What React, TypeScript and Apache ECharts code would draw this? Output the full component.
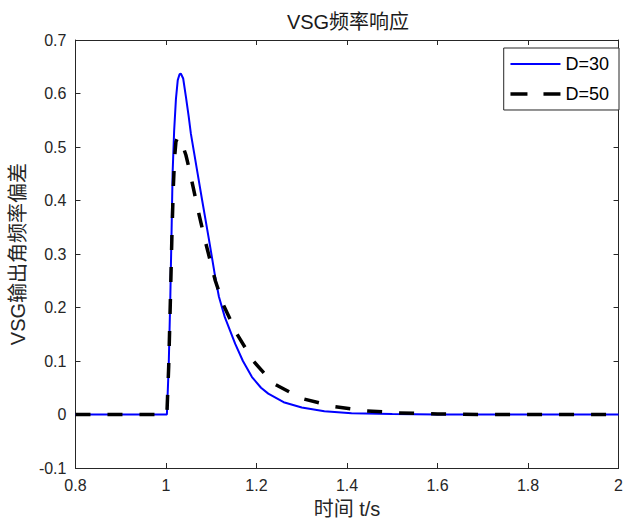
import React, { useEffect, useRef } from "react";
import * as echarts from "echarts";

const titleText = "VSG频率响应";
const xName = "时间 t/s";
const yName = "VSG输出角频率偏差";
const seriesNames = ["D=30", "D=50"];

const t30 = [0.8, 1.0, 1.002, 1.006, 1.0096, 1.0125, 1.0146, 1.018, 1.022, 1.026, 1.03, 1.033, 1.038, 1.044, 1.05, 1.055, 1.062, 1.069, 1.08, 1.095, 1.109, 1.117, 1.13, 1.153, 1.17, 1.19, 1.21, 1.226, 1.26, 1.3, 1.35, 1.41, 1.5, 1.6, 2.0];
const v30 = [0, 0, 0, 0.09, 0.22, 0.35, 0.45, 0.53, 0.59, 0.625, 0.636, 0.637, 0.628, 0.594, 0.558, 0.525, 0.49, 0.455, 0.4, 0.327, 0.256, 0.22, 0.182, 0.132, 0.1, 0.07, 0.05, 0.039, 0.023, 0.013, 0.006, 0.0025, 0.0008, 0, 0];

const t50 = [0.8, 1.0, 1.002, 1.006, 1.0096, 1.013, 1.016, 1.019, 1.022, 1.026, 1.03, 1.036, 1.044, 1.051, 1.06, 1.07, 1.085, 1.1, 1.109, 1.128, 1.157, 1.193, 1.237, 1.3, 1.37, 1.44, 1.515, 1.6, 1.7, 2.0];
const v50 = [0, 0, 0, 0.09, 0.21, 0.33, 0.42, 0.48, 0.51, 0.518, 0.515, 0.505, 0.485, 0.46, 0.425, 0.385, 0.33, 0.28, 0.25, 0.203, 0.15, 0.1, 0.058, 0.03, 0.015, 0.007, 0.003, 0.001, 0, 0];

const xMin = 0.8, xMax = 2, xStep = 0.2;
const yMin = -0.1, yMax = 0.7, yStep = 0.1;

const FONT = "'Liberation Sans', Arial, 'Noto Sans CJK SC', sans-serif";
const AXIS_COLOR = "#262626";

export default function App() {
  const ref = useRef<HTMLDivElement>(null);
  useEffect(() => {
    if (!ref.current) return;
    const chart = echarts.init(ref.current, undefined, { renderer: "svg" });
    const d30 = t30.map((t, i) => [t, v30[i]]);
    const d50 = t50.map((t, i) => [t, v50[i]]);
    const axisCommon = {
      axisLine: { show: true, onZero: false, lineStyle: { color: AXIS_COLOR, width: 1 } },
      axisTick: { show: true, inside: true, length: 5, lineStyle: { color: AXIS_COLOR } },
      splitLine: { show: false },
    };
    chart.setOption({
      animation: false,
      backgroundColor: "#ffffff",
      textStyle: { fontFamily: FONT },
      title: {
        text: titleText,
        left: 348,
        top: 12,
        padding: 0,
        textAlign: "center",
        textStyle: { fontSize: 20, fontWeight: "normal", color: "#1a1a1a", fontFamily: FONT },
      },
      grid: { left: 73, right: 6, top: 40, bottom: 52, containLabel: false },
      legend: {
        orient: "vertical",
        right: 7,
        top: 48,
        padding: [7, 10, 7, 5],
        itemWidth: 50,
        itemHeight: 14,
        itemGap: 12,
        backgroundColor: "#ffffff",
        borderColor: AXIS_COLOR,
        borderWidth: 1,
        borderRadius: 0,
        itemStyle: { opacity: 0, color: "transparent", borderWidth: 0 },
        textStyle: { fontSize: 18, color: "#000", fontFamily: FONT },
        data: [
          { name: seriesNames[0] },
          { name: seriesNames[1], lineStyle: { type: [17, 16], width: 3.5, color: "#000" } },
        ],
      },
      xAxis: [
        {
          type: "value",
          position: "bottom",
          min: xMin,
          max: xMax,
          interval: xStep,
          ...axisCommon,
          axisLabel: { fontSize: 16, color: AXIS_COLOR, margin: 9, fontFamily: FONT },
          name: xName,
          nameLocation: "middle",
          nameGap: 31,
          nameTextStyle: { fontSize: 20, color: AXIS_COLOR, fontFamily: FONT },
        },
        {
          type: "value",
          position: "top",
          min: xMin,
          max: xMax,
          interval: xStep,
          ...axisCommon,
          axisLabel: { show: false },
        },
      ],
      yAxis: [
        {
          type: "value",
          position: "left",
          min: yMin,
          max: yMax,
          interval: yStep,
          ...axisCommon,
          axisLabel: { fontSize: 16, color: AXIS_COLOR, margin: 9, fontFamily: FONT },
          name: yName,
          nameLocation: "middle",
          nameGap: 42,
          nameTextStyle: { fontSize: 20, color: AXIS_COLOR, fontFamily: FONT },
        },
        {
          type: "value",
          position: "right",
          min: yMin,
          max: yMax,
          interval: yStep,
          ...axisCommon,
          axisLabel: { show: false },
        },
      ],
      series: [
        {
          name: seriesNames[0],
          type: "line",
          xAxisIndex: 0,
          yAxisIndex: 0,
          data: d30,
          symbol: "none",
          showSymbol: false,
          lineStyle: { color: "#0000ff", width: 2 },
          itemStyle: { color: "#0000ff" },
          z: 2,
        },
        {
          name: seriesNames[1],
          type: "line",
          xAxisIndex: 0,
          yAxisIndex: 0,
          data: d50,
          symbol: "none",
          showSymbol: false,
          lineStyle: { color: "#000000", width: 3.5, type: [15, 17] },
          itemStyle: { color: "#000000" },
          z: 3,
        },
      ],
    });
    return () => chart.dispose();
  }, []);
  return (
    <div
      ref={ref}
      style={{ position: "fixed", left: 0, top: 0, width: 626, height: 524, background: "#fff" }}
    />
  );
}
